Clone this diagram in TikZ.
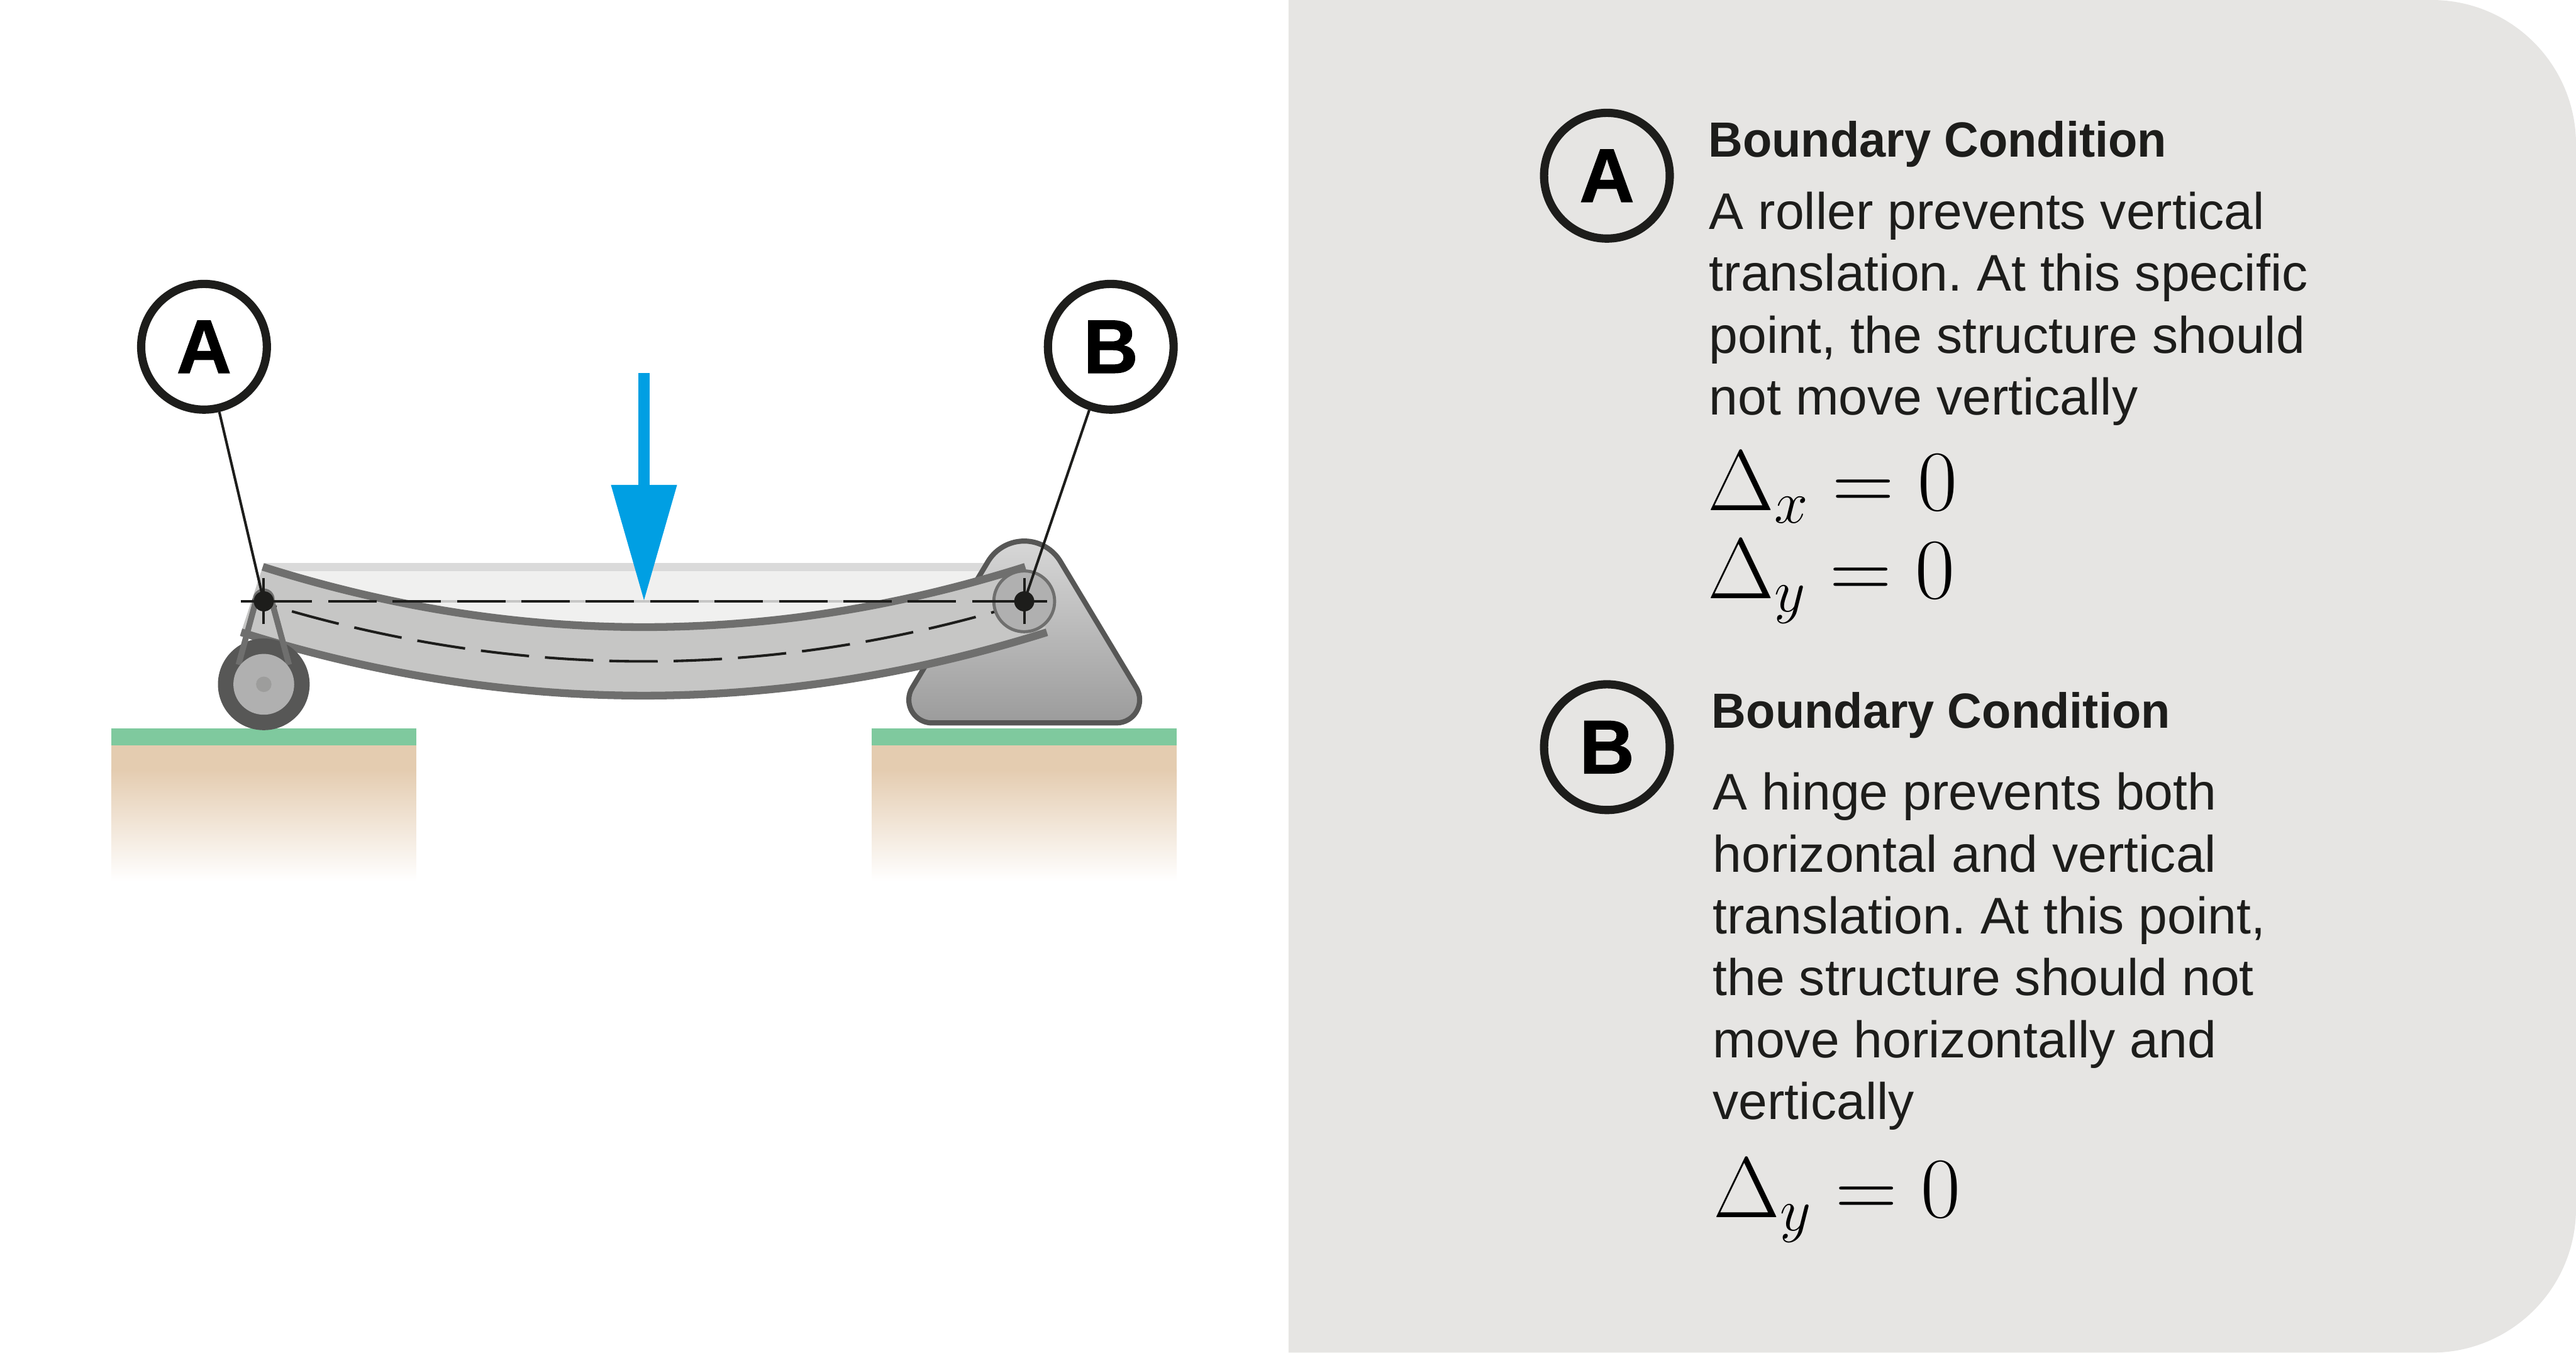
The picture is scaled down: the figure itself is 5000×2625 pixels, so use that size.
\documentclass[tikz,border=0pt]{standalone}
\usepackage{fix-cm}
\usepackage{fontspec}
\setmainfont{Liberation Sans}
\newfontface\bodyface[FakeStretch=1.005]{Liberation Sans}
\newfontface\headface[FakeStretch=0.965]{Liberation Sans Bold}
\newfontface\tagface[FakeBold=1]{Liberation Sans Bold}
\usetikzlibrary{arrows.meta}

\definecolor{panelgray}{HTML}{E6E5E3}
\definecolor{inkblack}{HTML}{1D1D1B}
\definecolor{beamfill}{HTML}{C6C6C5}
\definecolor{beamedge}{HTML}{6F6F6E}
\definecolor{restfill}{HTML}{F0F0EF}
\definecolor{restedge}{HTML}{DADADA}
\definecolor{metaldark}{HTML}{575756}
\definecolor{metalmid}{HTML}{B0B0B0}
\definecolor{metalhub}{HTML}{9D9D9C}
\definecolor{grass}{HTML}{7FC99E}
\definecolor{soil}{HTML}{E4CCB0}
\definecolor{soilpale}{HTML}{F7F2EB}
\definecolor{loadblue}{HTML}{009FE3}

\tikzset{
  tagcircle/.style={circle,draw=inkblack,fill=white,line width=1.6mm,minimum size=24.4mm,
    inner sep=0pt,text=black,font=\fontsize{42}{42}\selectfont\tagface},
  headtext/.style={anchor=base west,inner sep=0pt,text=inkblack,font=\fontsize{27.3}{34}\selectfont\headface},
  bodytext/.style={anchor=base west,inner sep=0pt,text=inkblack,align=left,
    font=\fontsize{28.45}{34.14}\selectfont\bodyface\frenchspacing},
  mathtext/.style={anchor=base west,inner sep=0pt,text=black,font=\fontsize{47.5}{50}\selectfont},
  thinline/.style={line width=0.5mm,inkblack}
}

\begin{document}
\begin{tikzpicture}[x=0.1mm,y=-0.1mm]
\useasboundingbox (0,0) rectangle (5000,2625);

\coordinate (pinA) at (512,1167);
\coordinate (pinB) at (1988,1167);

% the gray panel
\fill[panelgray] (2501,0) -- (4720,0) arc[start angle=-90,end angle=0,radius=280]
  -- (5000,2345) arc[start angle=0,end angle=90,radius=280] -- (2501,2625) -- cycle;

% the ground on both sides
\foreach \xa/\xb in {216/808,1692/2284}
{
  \fill[soil] (\xa,1446) rectangle (\xb,1493);
  \shade[top color=soil,middle color=soilpale,bottom color=white] (\xa,1493) rectangle (\xb,1710);
  \fill[grass] (\xa,1414) rectangle (\xb,1446);
}

% the beam before it bends
\fill[restfill] (514,1108) rectangle (1986,1215);
\fill[restedge] (514,1093) rectangle (1986,1108);
\draw[beamfill,line width=0.5mm] (pinA) -- (pinB);

% the hinge block
\draw[metaldark,line width=1mm,top color=black!15,bottom color=black!39]
  (1917.7,1089.8) arc[start angle=-149,end angle=-31,radius=82]
  -- (2205.6,1334.8) arc[start angle=-31,end angle=90,radius=45]
  -- (1809,1403) arc[start angle=90,end angle=211,radius=45] -- cycle;

% the bent beam
\fill[beamfill] (510,1100) .. controls (1003,1256) and (1497,1256) .. (1990,1100)
  -- (2032,1227) .. controls (1511,1391) and (989,1391) .. (468,1227) -- cycle;
\draw[beamedge,line width=1.5mm] (510,1100) .. controls (1003,1256) and (1497,1256) .. (1990,1100);
\draw[beamedge,line width=1.5mm] (468,1227) .. controls (989,1391) and (1511,1391) .. (2032,1227);
\draw[thinline,dash pattern=on 9.4mm off 3.1mm,dash phase=4.5mm]
  (490,1163.5) .. controls (997,1323.5) and (1503,1323.5) .. (2010,1163.5);

% the roller
\fill[metaldark] (512,1328) circle (89);
\fill[beamedge] (512,1163) circle (21);
\draw[beamedge,line width=1.15mm] (497,1165) -- (463,1290);
\draw[beamedge,line width=1.15mm] (527,1165) -- (561,1290);
\fill[metalmid] (512,1328) circle (59);
\fill[metalhub] (512,1328) circle (15);

% the hinge plate
\draw[fill=metalmid,draw=beamedge,line width=0.6mm] (pinB) circle (59);

% the straight line through both pins
\draw[thinline,dash pattern=on 9.4mm off 3.1mm] (pinA) -- (pinB);

% crosses and pins
\foreach \p in {pinA,pinB}
{
  \draw[thinline] ([xshift=-4.5mm]\p) -- ([xshift=4.5mm]\p);
  \draw[thinline] ([yshift=-4.4mm]\p) -- ([yshift=4.5mm]\p);
  \fill[inkblack] (\p) circle (19.5);
}

% the load
\coordinate (loadtop) at (1250,724);
\coordinate (loadtip) at (1250,1167);
\draw[loadblue,line width=2.2mm,-{Triangle[length=22.6mm,width=12.2mm]}] (loadtop) -- (loadtip);

% tags on the beam with their leaders
\node[tagcircle] (tagA) at (396,673) {A};
\node[tagcircle] (tagB) at (2156,673) {B};
\draw[thinline] (tagA) -- (pinA);
\draw[thinline] (tagB) -- (pinB);

% first block of text
\node[tagcircle,fill=none] (keyA) at (3119,341) {A};
\node[headtext] (headA) at (3315,304) {Boundary Condition};
\node[bodytext] (bodyA) at (3317,805) {A roller prevents vertical\\translation. At this specific\\point, the structure should\\not move vertically};
\node[mathtext] (mathAx) at (3314,990) {$\Delta_x=0$};
\node[mathtext] (mathAy) at (3314,1162) {$\Delta_y=0$};

% second block of text
\node[tagcircle,fill=none] (keyB) at (3119,1450) {B};
\node[headtext] (headB) at (3322,1413) {Boundary Condition};
\node[bodytext] (bodyB) at (3324,2172) {A hinge prevents both\\horizontal and vertical\\translation. At this point,\\the structure should not\\move horizontally and\\vertically};
\node[mathtext] (mathBy) at (3325,2363) {$\Delta_y=0$};
\end{tikzpicture}
\end{document}
